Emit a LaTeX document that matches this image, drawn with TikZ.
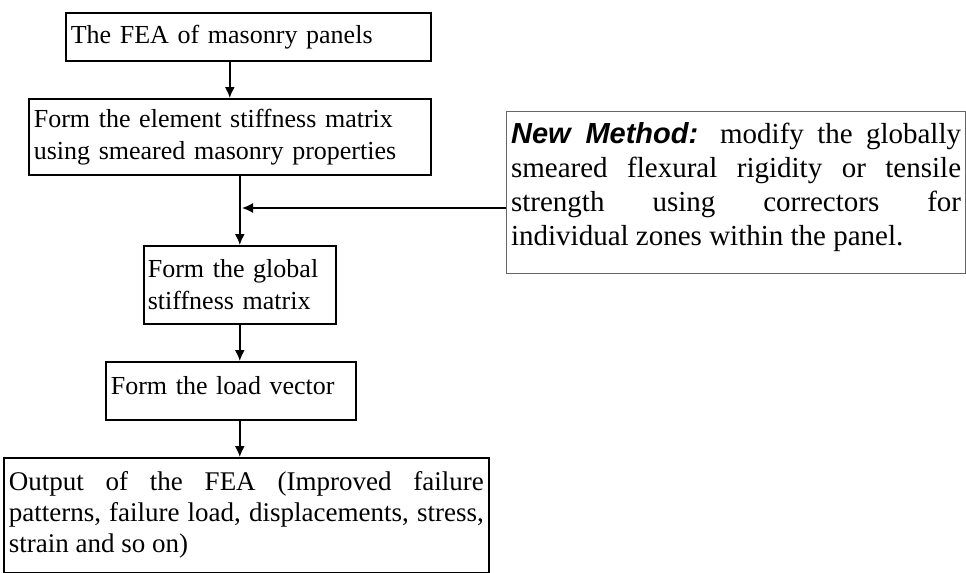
\documentclass[tikz,border=0pt]{standalone}
\usepackage{fontspec}
\setmainfont{Liberation Serif}
\newfontfamily\methodfont{Liberation Sans}
\usetikzlibrary{arrows.meta}

\begin{document}
\begin{tikzpicture}[x=1pt,y=1pt,
  stage/.style={draw, line width=0.8pt, anchor=north west, inner sep=2.5pt,
    font=\fontsize{13}{16}\selectfont},
  flow/.style={line width=0.8pt, -{Latex[length=5.5pt,width=5pt]}}]
\useasboundingbox (0,0) rectangle (483,-286.5);

\node[stage, text width=177.5pt, minimum height=24pt, align=left] (fea) at (32.5,-6) {The FEA of masonry panels};
\node[stage, text width=196pt, minimum height=38pt, align=left] (elem) at (14,-49) {Form the element stiffness matrix\\using smeared masonry properties};
\node[stage, draw=black!60, line width=0.6pt, text width=225pt, minimum height=81pt, inner sep=2.25pt, align=justify,
  font=\fontsize{14.5}{17}\selectfont] (newm) at (253,-55.5)
  {{\methodfont\bfseries\itshape New Method:} modify the globally\linebreak smeared flexural rigidity or tensile\linebreak strength using correctors for\linebreak individual zones within the panel.\rule[-9pt]{0pt}{9pt}};
\node[stage, text width=92pt, minimum height=39pt, inner sep=2pt, align=left] (glob) at (71.5,-122.5) {Form the global\\stiffness matrix};
\node[stage, text width=120pt, minimum height=29pt, align=left] (load) at (52.5,-180.5) {Form the load vector\rule[-5pt]{0pt}{5pt}};
\node[stage, text width=237.5pt, minimum height=57.5pt, align=justify,
  font=\fontsize{13.5}{15.5}\selectfont] (out) at (1.5,-228.5)
  {Output of the FEA (Improved failure\linebreak patterns, failure load, displacements, stress,\linebreak strain and so on)};

\coordinate (join) at (119.5,-104);

\draw[flow] (fea.south -| elem.north) -- (elem.north);
\draw[flow] (elem.south -| glob.north) -- (glob.north);
\draw[flow, shorten >=1.5pt] (newm.west |- join) -- (join);
\draw[flow] (glob.south) -- (load.north -| glob.south);
\draw[flow] (load.south -| glob.south) -- (out.north -| glob.south);
\end{tikzpicture}
\end{document}
